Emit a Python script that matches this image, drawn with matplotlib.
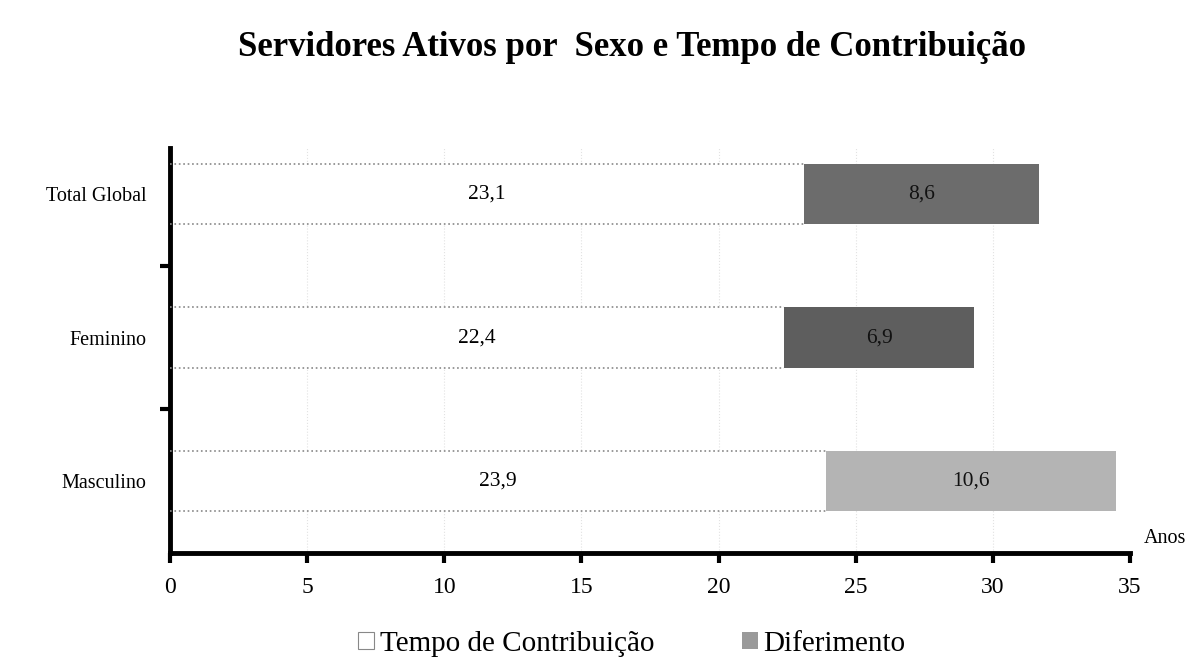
import numpy as np
from matplotlib import pyplot as plt
from matplotlib.patches import Patch

plt.rcParams['font.family'] = ['Liberation Serif', 'DejaVu Serif']

categorias = ['Masculino', 'Feminino', 'Total Global']
tempo_contrib = [23.9, 22.4, 23.1]
diferimento = [10.6, 6.9, 8.6]
rotulos_tempo = ['23,9', '22,4', '23,1']
rotulos_dif = ['10,6', '6,9', '8,6']
cores_dif = ['#b4b4b4', '#5e5e5e', '#6c6c6c']

fig = plt.figure(figsize=(11.92, 6.61), dpi=100)
ax = fig.add_axes([0.1426, 0.1634, 0.8054, 0.6127])

y = np.arange(len(categorias))
h = 0.42

# faint dotted grid (barely visible in the scan)
for xv in range(5, 35, 5):
    ax.axvline(xv, color='#e2e2e2', linestyle=':', linewidth=0.8, zorder=0)

ax.barh(y, tempo_contrib, height=h, color='white', edgecolor='none', zorder=2)
ax.hlines(y + h / 2, 0, tempo_contrib, colors='#888888', linestyles=':', linewidth=1.2, zorder=3)
ax.hlines(y - h / 2, 0, tempo_contrib, colors='#888888', linestyles=':', linewidth=1.2, zorder=3)
ax.barh(y, diferimento, left=tempo_contrib, height=h, color=cores_dif, edgecolor='none', zorder=2)

for i in range(len(categorias)):
    ax.text(tempo_contrib[i] / 2, y[i], rotulos_tempo[i], ha='center', va='center', fontsize=15.5, zorder=4)
    ax.text(tempo_contrib[i] + diferimento[i] / 2, y[i], rotulos_dif[i], ha='center', va='center',
            fontsize=15.5, color='#111111', zorder=4)

ax.set_xlim(0, 35)
ax.set_ylim(-0.5, 2.32)
ax.set_xticks(range(0, 36, 5))
ax.set_yticks(y)
ax.set_yticklabels(categorias, fontsize=14.5)
ax.set_yticks([0.5, 1.5], minor=True)
ax.tick_params(axis='y', which='major', length=0, pad=17)
ax.tick_params(axis='y', which='minor', length=7, width=3, direction='out')
ax.tick_params(axis='x', length=7, width=3, direction='out', labelsize=17, pad=10)

for s in ['top', 'right']:
    ax.spines[s].set_visible(False)
for s in ['left', 'bottom']:
    ax.spines[s].set_linewidth(3.5)

ax.text(1.014, 0.012, 'Anos', transform=ax.transAxes, fontsize=14.5, ha='left', va='bottom')

fig.text(0.53, 0.928, 'Servidores Ativos por  Sexo e Tempo de Contribuição',
         ha='center', va='center', fontsize=25, fontweight='bold')

handles = [Patch(facecolor='white', edgecolor='#888888', linewidth=0.8),
           Patch(facecolor='#9a9a9a', edgecolor='none')]
fig.legend(handles, ['Tempo de Contribuição', 'Diferimento'], loc='center',
           bbox_to_anchor=(0.530, 0.026), ncol=2, frameon=False, fontsize=21,
           handlelength=0.55, handleheight=0.55, handletextpad=0.2, columnspacing=3.0)

fig.savefig('out.png', dpi=100)
